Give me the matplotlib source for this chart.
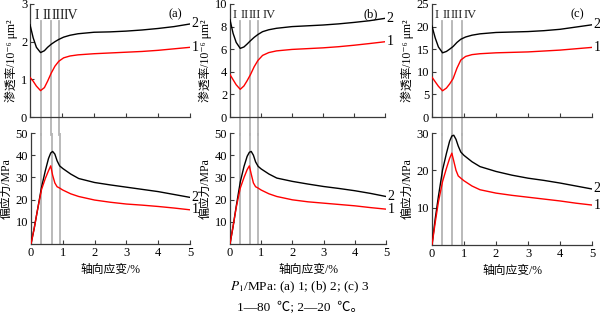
import matplotlib
matplotlib.use("Agg")
import matplotlib.pyplot as plt

plt.rcParams['font.family'] = ['Liberation Serif', 'Noto Sans CJK SC', 'DejaVu Sans']
plt.rcParams['mathtext.fontset'] = 'stix'

# strain grids (%)
strain_k = [0, 0.1, 0.2, 0.33, 0.45, 0.55, 0.66, 0.78, 0.9, 1.05, 1.25, 1.5,
            2, 2.5, 3, 3.5, 4, 4.5, 5]
strain_s = [0, 0.1, 0.2, 0.33, 0.45, 0.55, 0.62, 0.68, 0.75, 0.82, 0.9, 1.0,
            1.25, 1.5, 2, 2.5, 3, 3.5, 4, 4.5, 5]

# permeability, 10^-6 um^2 (1 = 80 C, 2 = 20 C)
perm_a_1 = [1.05, 0.95, 0.82, 0.70, 0.78, 0.95, 1.16, 1.35, 1.48, 1.57, 1.62, 1.65,
            1.68, 1.70, 1.72, 1.74, 1.77, 1.81, 1.85]
perm_a_2 = [2.45, 2.10, 1.85, 1.71, 1.76, 1.85, 1.93, 2.00, 2.06, 2.12, 2.17, 2.21,
            2.25, 2.26, 2.28, 2.31, 2.35, 2.40, 2.47]
perm_b_1 = [3.75, 3.30, 2.85, 2.45, 2.75, 3.20, 3.75, 4.45, 5.00, 5.45, 5.70, 5.85,
            5.98, 6.05, 6.12, 6.22, 6.35, 6.50, 6.66]
perm_b_2 = [8.60, 7.40, 6.60, 6.07, 6.20, 6.45, 6.75, 7.05, 7.30, 7.55, 7.72, 7.85,
            8.00, 8.07, 8.14, 8.24, 8.37, 8.52, 8.73]
perm_c_1 = [8.8, 7.8, 6.8, 5.8, 6.4, 7.3, 8.5, 10.8, 12.6, 13.4, 13.8, 14.0,
            14.2, 14.3, 14.4, 14.6, 14.8, 15.1, 15.4]
perm_c_2 = [20.1, 17.5, 15.5, 14.2, 14.5, 15.0, 15.6, 16.5, 17.2, 17.7, 18.1, 18.4,
            18.7, 18.8, 18.9, 19.1, 19.4, 19.9, 20.4]

# deviatoric stress, MPa
stress_a_1 = [0, 7, 15, 24.5, 29.5, 33, 35.2, 31, 27.5, 25.8, 25.2, 24.3,
              22.6, 21.4, 19.8, 18.8, 18.0, 17.5, 16.9, 16.2, 15.4]
stress_a_2 = [0, 7, 15, 25.5, 33, 38.5, 41, 41.7, 40.5, 37.5, 35.2, 34,
              31.5, 29.5, 27.7, 26.6, 25.6, 24.6, 23.6, 22.3, 21]
stress_b_1 = [0, 8, 16.5, 25.2, 30, 33.5, 35.2, 31.5, 27.5, 25.8, 25.2, 24.3,
              22.6, 21.4, 19.9, 19.0, 18.4, 17.8, 17.2, 16.4, 15.7]
stress_b_2 = [0, 8, 17, 28, 35, 39.5, 41.3, 41.7, 40, 37, 35, 33.8,
              31.5, 29.7, 28.2, 27.0, 25.9, 25.0, 24.0, 22.8, 21.4]
stress_c_1 = [0, 6, 11.5, 17, 20.5, 23.2, 24.6, 22.5, 20, 18.5, 17.9, 17.2,
              15.8, 14.8, 13.9, 13.3, 12.8, 12.3, 11.8, 11.2, 10.7]
stress_c_2 = [0, 7, 13, 20.1, 24.5, 27.8, 29.2, 29.4, 28.3, 26.5, 24.9, 24.0,
              22.3, 21.0, 19.7, 18.7, 17.9, 17.3, 16.6, 15.8, 15.0]

# stage boundaries (%)
bounds_a = [0.33, 0.66, 0.91]
bounds_b = [0.32, 0.65, 0.91]
bounds_c = [0.31, 0.62, 0.94]
stage_names = ['I', 'II', 'III', 'IV']
stage_pos_a = [0.22, 0.52, 0.87, 1.27]
stage_pos_b = [0.15, 0.47, 0.80, 1.25]
stage_pos_c = [0.15, 0.45, 0.78, 1.18]
stage_size = [10, 9, 9]

panel_tags = ['(a)', '(b)', '(c)']
perm_ticks = [[0, 1, 2, 3], [0, 2, 4, 6, 8, 10], [0, 5, 10, 15, 20, 25]]
stress_ticks = [[10, 20, 30, 40, 50], [10, 20, 30, 40, 50], [10, 20, 30]]
x_ticks = [0, 1, 2, 3, 4, 5]

W, H = 600, 322
fig = plt.figure(figsize=(W / 100, H / 100), dpi=100)


def box(left, right, top, bottom):
    return [left / W, (H - bottom) / H, (right - left) / W, (bottom - top) / H]


top_boxes = [box(30, 190, 4, 117), box(230, 385, 4, 117), box(432, 592, 4, 117)]
bot_boxes = [box(31, 190, 133, 244), box(230, 386, 133, 244), box(432, 592, 133, 245)]

perm_sets = [(perm_a_1, perm_a_2), (perm_b_1, perm_b_2), (perm_c_1, perm_c_2)]
stress_sets = [(stress_a_1, stress_a_2), (stress_b_1, stress_b_2), (stress_c_1, stress_c_2)]
bounds_sets = [bounds_a, bounds_b, bounds_c]
stage_sets = [stage_pos_a, stage_pos_b, stage_pos_c]

spine_col = '#3a3a3a'
vline_col = '#b4b4b4'
fs = 9


def style(ax):
    ax.patch.set_visible(False)
    for s in ['top', 'right']:
        ax.spines[s].set_visible(False)
    for s in ['left', 'bottom']:
        ax.spines[s].set_color(spine_col)
        ax.spines[s].set_linewidth(0.9)
    ax.tick_params(direction='in', length=3, width=0.8, color=spine_col,
                   labelsize=fs, pad=2)
    ax.set_xlim(0, 5)
    ax.set_xticks(x_ticks)


for i in range(3):
    # permeability panel
    ax = fig.add_axes(top_boxes[i])
    style(ax)
    k1, k2 = perm_sets[i]
    ymax = perm_ticks[i][-1]
    ax.set_ylim(0, ymax)
    ax.set_yticks(perm_ticks[i])
    ax.tick_params(axis='x', labelbottom=False)
    for b in bounds_sets[i]:
        ax.axvline(b, ymin=-0.16, ymax=0.85, color=vline_col, lw=1.3,
                   clip_on=False, zorder=1)
    ax.plot(strain_k, k2, color='black', lw=1.0, zorder=3)
    ax.plot(strain_k, k1, color='#ff0000', lw=1.0, zorder=3)
    ax.text(5.05, k2[-1], '2', fontsize=fs + 1, va='center', ha='left', clip_on=False)
    ax.text(5.05, k1[-1], '1', fontsize=fs + 1, va='center', ha='left', clip_on=False)
    for name, xp in zip(stage_names, stage_sets[i]):
        ax.text(xp, 0.9, name, transform=ax.get_xaxis_transform(),
                fontsize=stage_size[i], ha='center', va='center', color='#222222')
    ax.text(0.91, 0.91, panel_tags[i], transform=ax.transAxes, fontsize=fs,
            ha='center', va='center')
    ax.set_ylabel('渗透率/10⁻⁶ μm²', fontsize=8.5, labelpad=2)

    # stress panel
    ax2 = fig.add_axes(bot_boxes[i])
    style(ax2)
    s1, s2 = stress_sets[i]
    ax2.set_ylim(0, stress_ticks[i][-1])
    ax2.set_yticks(stress_ticks[i])
    for b in bounds_sets[i]:
        ax2.axvline(b, ymin=0, ymax=1, color=vline_col, lw=1.3, zorder=1)
    ax2.plot(strain_s, s2, color='black', lw=1.0, zorder=3)
    ax2.plot(strain_s, s1, color='#ff0000', lw=1.0, zorder=3)
    ax2.text(5.05, s2[-1], '2', fontsize=fs + 1, va='center', ha='left', clip_on=False)
    ax2.text(5.05, s1[-1], '1', fontsize=fs + 1, va='center', ha='left', clip_on=False)
    ax2.set_ylabel('偏应力/MPa', fontsize=8.5, labelpad=2)
    ax2.set_xlabel('轴向应变/%', fontsize=8.5, labelpad=4)

fig.text(0.5, (H - 287) / H, '$P_1$/MPa: (a) 1; (b) 2; (c) 3', fontsize=9.5,
         ha='center', va='center', family='Liberation Serif')
fig.text(0.5, (H - 308) / H, '1—80  ℃; 2—20  ℃。', fontsize=9.5,
         ha='center', va='center')

fig.savefig('out.png', dpi=100)
